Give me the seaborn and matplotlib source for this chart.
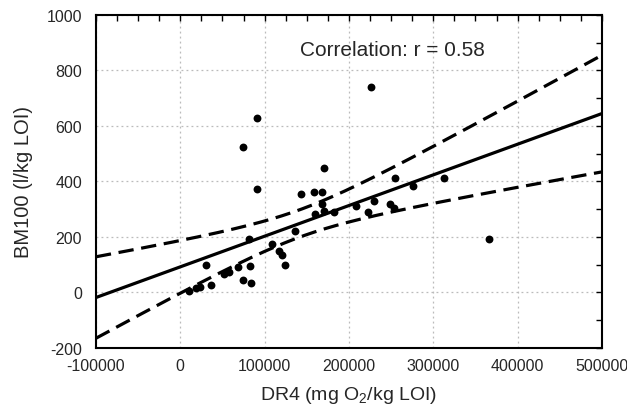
import numpy as np
import pandas as pd
import matplotlib
matplotlib.use("Agg")
import matplotlib.pyplot as plt
from matplotlib.ticker import MultipleLocator
import seaborn as sns

# DR4 oxygen demand (mg O2/kg LOI) and BM100 methane potential (l/kg LOI)
dr4 = [10500, 19000, 23000, 31000, 37000, 52000, 58000, 68000, 74500, 83000,
       84000, 81000, 74000, 90500, 90500, 108500, 117000, 120500, 124000, 136000,
       143000, 158000, 168000, 170500, 168000, 170000, 160000, 182000, 208000, 223000,
       229500, 226000, 249000, 254000, 255000, 276000, 313000, 366000]
bm100 = [5, 15, 18, 100, 25, 65, 75, 91, 43, 97,
         33, 192, 523, 628, 373, 175, 148, 135, 98, 223,
         355, 363, 363, 449, 318, 295, 282, 290, 310, 291,
         328, 740, 318, 306, 413, 383, 411, 193]
r_stated = 0.58

x_ticks = [-100000, 0, 100000, 200000, 300000, 400000, 500000]
y_ticks = [-200, 0, 200, 400, 600, 800, 1000]

df = pd.DataFrame({"DR4": dr4, "BM100": bm100})

sns.set_theme(style="white")
plt.rcParams["font.family"] = ["Liberation Sans", "DejaVu Sans"]
plt.rcParams["mathtext.fontset"] = "custom"
plt.rcParams["mathtext.rm"] = "Liberation Sans"
plt.rcParams["mathtext.it"] = "Liberation Sans:italic"

fig = plt.figure(figsize=(6.27, 4.10), dpi=100)
ax = fig.add_axes([0.153, 0.149, 0.807, 0.812])

# least-squares fit with 95% confidence band for the mean
x = df["DR4"].to_numpy(float)
y = df["BM100"].to_numpy(float)
n = len(x)
b1, b0 = np.polyfit(x, y, 1)
resid = y - (b0 + b1 * x)
s = np.sqrt(np.sum(resid ** 2) / (n - 2))
sxx = np.sum((x - x.mean()) ** 2)
t_crit = 2.03
xs = np.linspace(x_ticks[0], x_ticks[-1], 200)
fit = b0 + b1 * xs
half = t_crit * s * np.sqrt(1 / n + (xs - x.mean()) ** 2 / sxx)
band = pd.DataFrame({"x": xs, "fit": fit, "lo": fit - half, "hi": fit + half})

sns.lineplot(data=band, x="x", y="fit", ax=ax, color="black", lw=2.3)
for col in ("lo", "hi"):
    sns.lineplot(data=band, x="x", y=col, ax=ax, color="black", lw=2.3)
    ax.lines[-1].set_dashes([4.8, 2.4])
sns.scatterplot(data=df, x="DR4", y="BM100", ax=ax, color="black", s=32,
                edgecolor="black", linewidth=0, zorder=5)

ax.set_xlim(x_ticks[0], x_ticks[-1])
ax.set_ylim(y_ticks[0], y_ticks[-1])
ax.set_xticks(x_ticks)
ax.set_yticks(y_ticks)
ax.set_xticklabels([str(v) for v in x_ticks])
ax.set_yticklabels([str(v) for v in y_ticks])
ax.xaxis.set_minor_locator(MultipleLocator(25000))
ax.yaxis.set_minor_locator(MultipleLocator(100))
ax.tick_params(which="both", direction="in", top=True, right=True,
               labelsize=11.5, color="black", width=1)
ax.tick_params(axis="x", pad=7)
ax.tick_params(axis="y", pad=10)
ax.tick_params(which="major", length=4)
ax.tick_params(which="minor", length=4)
ax.grid(True, which="major", color="#bbbbbb", linestyle=(0, (1.5, 2.5)), lw=0.9)
for sp in ax.spines.values():
    sp.set_color("black")
    sp.set_linewidth(1.5)

ax.set_xlabel("DR4 (mg O$_2$/kg LOI)", fontsize=14, labelpad=8)
ax.set_ylabel("BM100 (l/kg LOI)", fontsize=14.5, labelpad=10)
ax.text(0.403, 0.895, f"Correlation: r = {r_stated:.2f}", transform=ax.transAxes,
        fontsize=15, ha="left", va="center")

fig.savefig("out.png", dpi=100)
